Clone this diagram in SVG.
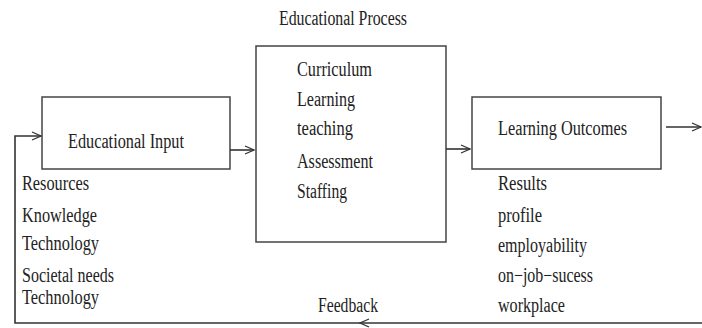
<svg xmlns="http://www.w3.org/2000/svg" width="702" height="328" viewBox="0 0 702 328">
<style>
.box{fill:#fff;stroke:#444;stroke-width:1.5}
.t{font-family:"Liberation Serif","Times New Roman",serif;font-size:20px;fill:#222}
.c{fill:none;stroke:#333;stroke-width:1.6}
</style>
<defs>
<marker id="ah" markerWidth="12" markerHeight="10" refX="10" refY="5" orient="auto" markerUnits="userSpaceOnUse">
<path d="M1,1 L10,5 L1,9" fill="none" stroke="#333" stroke-width="1.3"/>
</marker>
</defs>
<rect width="702" height="328" fill="#fff"/>
<text class="t" x="279" y="25" textLength="128" lengthAdjust="spacingAndGlyphs">Educational Process</text>
<g id="input">
<rect class="box" x="42" y="97" width="188" height="72"/>
<text class="t" x="68" y="148" textLength="116" lengthAdjust="spacingAndGlyphs">Educational Input</text>
</g>
<g id="process">
<rect class="box" x="256" y="46" width="190" height="196"/>
<text class="t" x="297" y="76" textLength="75" lengthAdjust="spacingAndGlyphs">Curriculum</text>
<text class="t" x="297" y="106" textLength="58" lengthAdjust="spacingAndGlyphs">Learning</text>
<text class="t" x="297" y="135" textLength="56" lengthAdjust="spacingAndGlyphs">teaching</text>
<text class="t" x="297" y="168" textLength="76" lengthAdjust="spacingAndGlyphs">Assessment</text>
<text class="t" x="297" y="198" textLength="50" lengthAdjust="spacingAndGlyphs">Staffing</text>
</g>
<g id="outcomes">
<rect class="box" x="472" y="97" width="189" height="72"/>
<text class="t" x="498" y="135" textLength="129" lengthAdjust="spacingAndGlyphs">Learning Outcomes</text>
</g>
<g id="input-list">
<text class="t" x="22" y="190" textLength="67" lengthAdjust="spacingAndGlyphs">Resources</text>
<text class="t" x="22" y="222" textLength="75" lengthAdjust="spacingAndGlyphs">Knowledge</text>
<text class="t" x="22" y="250" textLength="77" lengthAdjust="spacingAndGlyphs">Technology</text>
<text class="t" x="22" y="282" textLength="92" lengthAdjust="spacingAndGlyphs">Societal needs</text>
<text class="t" x="22" y="304" textLength="77" lengthAdjust="spacingAndGlyphs">Technology</text>
</g>
<g id="outcome-list">
<text class="t" x="498" y="190" textLength="49" lengthAdjust="spacingAndGlyphs">Results</text>
<text class="t" x="498" y="222" textLength="44" lengthAdjust="spacingAndGlyphs">profile</text>
<text class="t" x="498" y="252" textLength="89" lengthAdjust="spacingAndGlyphs">employability</text>
<text class="t" x="498" y="282" textLength="95" lengthAdjust="spacingAndGlyphs">on−job−sucess</text>
<text class="t" x="498" y="312" textLength="67" lengthAdjust="spacingAndGlyphs">workplace</text>
</g>
<text class="t" x="318" y="312" textLength="60" lengthAdjust="spacingAndGlyphs">Feedback</text>
<g id="connectors">
<line class="c" x1="230" y1="150" x2="254" y2="150" marker-end="url(#ah)"/>
<line class="c" x1="446" y1="149" x2="470" y2="149" marker-end="url(#ah)"/>
<line class="c" x1="666" y1="127" x2="701" y2="127" marker-end="url(#ah)"/>
<path class="c" d="M702,323 L360,323" marker-end="url(#ah)"/>
<path class="c" d="M360,323 L15,323 L15,136 L41,136" marker-end="url(#ah)"/>
</g>
</svg>
